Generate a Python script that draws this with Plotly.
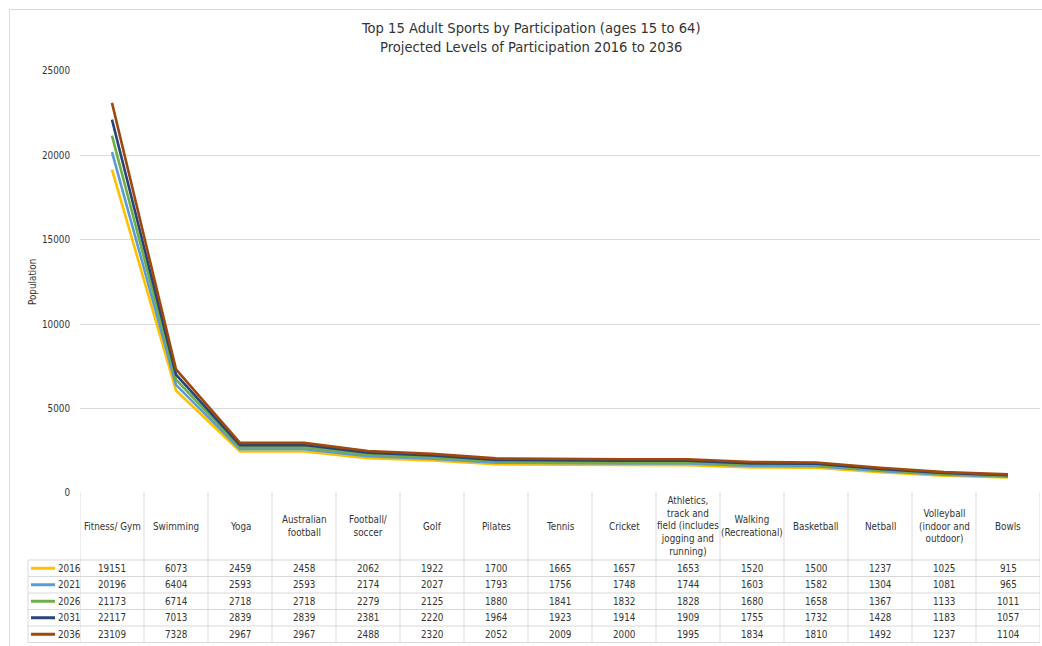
import plotly.graph_objects as go

# Sports (categories) and projected participation ('000s) by year
sports = [
    "Fitness/ Gym", "Swimming", "Yoga", "Australian<br>football", "Football/<br>soccer",
    "Golf", "Pilates", "Tennis", "Cricket",
    "Athletics,<br>track and<br>field (includes<br>jogging and<br>running)",
    "Walking<br>(Recreational)", "Basketball", "Netball",
    "Volleyball<br>(indoor and<br>outdoor)", "Bowls",
]
years = ["2016", "2021", "2026", "2031", "2036"]
p2016 = [19151, 6073, 2459, 2458, 2062, 1922, 1700, 1665, 1657, 1653, 1520, 1500, 1237, 1025, 915]
p2021 = [20196, 6404, 2593, 2593, 2174, 2027, 1793, 1756, 1748, 1744, 1603, 1582, 1304, 1081, 965]
p2026 = [21173, 6714, 2718, 2718, 2279, 2125, 1880, 1841, 1832, 1828, 1680, 1658, 1367, 1133, 1011]
p2031 = [22117, 7013, 2839, 2839, 2381, 2220, 1964, 1923, 1914, 1909, 1755, 1732, 1428, 1183, 1057]
p2036 = [23109, 7328, 2967, 2967, 2488, 2320, 2052, 2009, 2000, 1995, 1834, 1810, 1492, 1237, 1104]
series = [p2016, p2021, p2026, p2031, p2036]
colors = ["#FFC000", "#5B9BD5", "#70AD47", "#264478", "#9E480E"]
y_ticks = [0, 5000, 10000, 15000, 20000, 25000]

W, H = 1042, 646
L, R, T, B = 80, 2, 71, 153
PW, PH = W - L - R, H - T - B
FONT = "DejaVu Sans Condensed, Liberation Sans Narrow, Arial, sans-serif"
GRID = "#D9D9D9"
TXT = "#333333"
FS = 9.8


def py(pix):
    """Pixel row -> paper y."""
    return (H - B - pix) / PH


def px(pix):
    """Pixel column -> paper x."""
    return (pix - L) / PW


x_idx = list(range(len(sports)))

fig = go.Figure()
for yr, vals, col in zip(years, series, colors):
    fig.add_trace(go.Scatter(
        x=x_idx, y=vals, mode="lines", name=yr,
        line=dict(color=col, width=2.6), showlegend=False,
    ))

shapes = []
annotations = []

# outer chart border
shapes.append(dict(type="rect", xref="paper", yref="paper",
                   x0=px(9.5), x1=px(1060), y0=py(660), y1=py(9.5),
                   line=dict(color=GRID, width=1), layer="below"))

# data table: row boundaries
row_lines = [560, 576.5, 593, 609.5, 626, 642.5]
header_top = 493
for r in row_lines:
    shapes.append(dict(type="line", xref="paper", yref="paper",
                       x0=px(28), x1=px(1040), y0=py(r), y1=py(r),
                       line=dict(color=GRID, width=1)))
# column boundaries
for i in range(len(sports) + 1):
    shapes.append(dict(type="line", xref="x", yref="paper",
                       x0=i - 0.5, x1=i - 0.5, y0=py(header_top), y1=py(row_lines[-1]),
                       line=dict(color=GRID, width=1)))
# legend-key column left edge
shapes.append(dict(type="line", xref="paper", yref="paper",
                   x0=px(28), x1=px(28), y0=py(row_lines[0]), y1=py(row_lines[-1]),
                   line=dict(color=GRID, width=1)))

# header labels
for i, s in enumerate(sports):
    annotations.append(dict(x=i, y=py(526), xref="x", yref="paper", text=s,
                            showarrow=False, font=dict(family=FONT, size=FS, color=TXT),
                            align="center", xanchor="center", yanchor="middle"))

# table rows: legend key + values
for k, (yr, vals, col) in enumerate(zip(years, series, colors)):
    yc = (row_lines[k] + row_lines[k + 1]) / 2
    shapes.append(dict(type="line", xref="paper", yref="paper",
                       x0=px(31), x1=px(55), y0=py(yc), y1=py(yc),
                       line=dict(color=col, width=3)))
    annotations.append(dict(x=px(56), y=py(yc), xref="paper", yref="paper", text=yr,
                            showarrow=False, font=dict(family=FONT, size=FS, color=TXT),
                            xanchor="left", yanchor="middle"))
    for i, v in enumerate(vals):
        annotations.append(dict(x=i, y=py(yc), xref="x", yref="paper", text=str(v),
                                showarrow=False, font=dict(family=FONT, size=FS, color=TXT),
                                xanchor="center", yanchor="middle"))

# title
annotations.append(dict(x=px(531), y=py(37), xref="paper", yref="paper",
                        text="Top 15 Adult Sports by Participation (ages 15 to 64)<br>"
                             "Projected Levels of Participation 2016 to 2036",
                        showarrow=False, font=dict(family=FONT, size=14.6, color="#333333"),
                        align="center", xanchor="center", yanchor="middle"))

# y-axis title
annotations.append(dict(x=px(32), y=py(282), xref="paper", yref="paper",
                        text="Population", textangle=-90, showarrow=False,
                        font=dict(family=FONT, size=FS, color=TXT),
                        xanchor="center", yanchor="middle"))

fig.update_layout(
    width=W, height=H,
    margin=dict(l=L, r=R, t=T, b=B),
    paper_bgcolor="white", plot_bgcolor="white",
    shapes=shapes, annotations=annotations,
    xaxis=dict(range=[-0.5, len(sports) - 0.5], showgrid=False, zeroline=False,
               showticklabels=False, ticks="", showline=False, fixedrange=True),
    yaxis=dict(range=[0, 25000], tickvals=y_ticks, ticktext=[str(t) for t in y_ticks],
               showgrid=True, gridcolor=GRID, gridwidth=1, zeroline=False,
               showline=False, ticks="", ticklabelstandoff=9,
               tickfont=dict(family=FONT, size=FS, color=TXT), fixedrange=True),
    showlegend=False,
)

fig.write_html("out.html")
